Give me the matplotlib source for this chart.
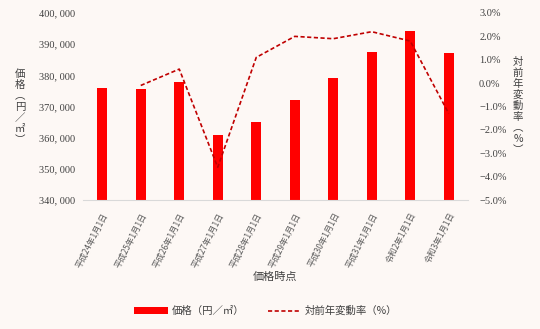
import numpy as np
import matplotlib.pyplot as plt
from matplotlib.ticker import FuncFormatter

plt.rcParams['font.family'] = ['Liberation Serif', 'Noto Sans CJK JP']

dates = ['平成24年1月1日', '平成25年1月1日', '平成26年1月1日', '平成27年1月1日',
         '平成28年1月1日', '平成29年1月1日', '平成30年1月1日', '平成31年1月1日',
         '令和2年1月1日', '令和3年1月1日']
price = [376000, 375500, 377800, 360900, 364900, 372100, 379300, 387500, 394300, 387300]
change = [np.nan, -0.1, 0.6, -3.6, 1.1, 2.0, 1.9, 2.2, 1.8, -1.3]

bg = '#fdf8f5'
txt = '#404040'
jp = ['Noto Sans CJK JP', 'DejaVu Sans']


def vertical_label(fig, x, y0, chars, step):
    # stack characters one below the other, in pixels from the top-left
    for i, c in enumerate(chars):
        fig.text(x / 540, 1 - (y0 + i * step) / 329, c, fontsize=7.5, color=txt,
                 ha='center', va='center', family=jp)


def main():
    fig = plt.figure(figsize=(5.4, 3.29), dpi=100, facecolor=bg)
    ax = fig.add_axes([83 / 540, 1 - 200 / 329, 385 / 540, 187 / 329])
    ax.set_facecolor(bg)
    x = np.arange(len(dates))
    bars = ax.bar(x, price, width=0.27, color='#ff0000', zorder=2)
    ax.set_ylim(340000, 400000)
    ax.set_yticks(np.arange(340000, 400001, 10000))
    ax.yaxis.set_major_formatter(FuncFormatter(lambda v, p: f'{int(v) // 1000}, {int(v) % 1000:03d}'))
    ax.set_xlim(-0.5, len(dates) - 0.5)
    ax.set_xticks(x)
    ax.set_xticklabels(dates, rotation=63, ha='right', va='top', rotation_mode='anchor',
                       family=jp, fontsize=6, color='#595959')
    ax.tick_params(axis='y', length=0, labelsize=7.5, colors=txt, pad=6)
    ax.tick_params(axis='x', length=0, pad=8)
    for s in ['top', 'right', 'left']:
        ax.spines[s].set_visible(False)
    ax.spines['bottom'].set_color('#d9d9d9')
    ax.set_xlabel('価格時点', fontsize=8, color=txt, labelpad=2, family=jp)

    ax2 = ax.twinx()
    line, = ax2.plot(x, change, color='#c00000', ls=(0, (2.5, 1.5)), lw=1.2)
    ax2.set_ylim(-5, 3)
    ax2.set_yticks(np.arange(-5, 3.1, 1))
    ax2.yaxis.set_major_formatter(FuncFormatter(lambda v, p: f'{v:.1f}%'.replace('-', '−')))
    ax2.tick_params(axis='y', length=0, labelsize=7.5, colors=txt, pad=8)
    for s in ax2.spines.values():
        s.set_visible(False)

    vertical_label(fig, 20, 74, '価格︵円／㎡︶', 11)
    vertical_label(fig, 518, 62, '対前年変動率︵%︶', 11)

    fig.legend([bars, line], ['価格（円／㎡）', '対前年変動率（%）'], loc='center',
               bbox_to_anchor=(266 / 540, 1 - 311 / 329), ncol=2, frameon=False,
               prop={'family': jp, 'size': 7.5}, handlelength=3.2, handletextpad=0.4,
               columnspacing=2.2, labelcolor=txt)
    fig.savefig('out.png', facecolor=bg)


if __name__ == '__main__':
    main()
